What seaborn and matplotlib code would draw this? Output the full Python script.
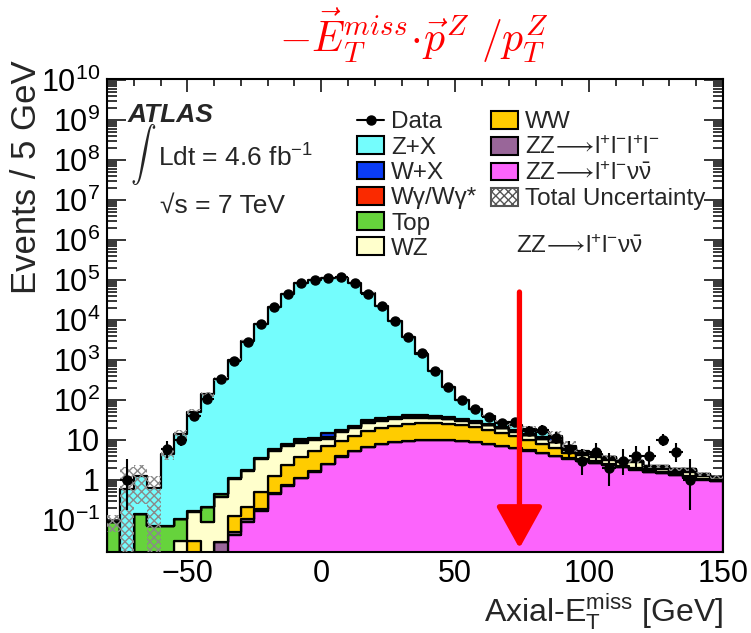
import math
import numpy as np
import pandas as pd
import matplotlib
matplotlib.use("Agg")
import matplotlib.pyplot as plt
import seaborn as sns
from matplotlib.lines import Line2D
from matplotlib.patches import Patch
from matplotlib.ticker import MultipleLocator, LogLocator, FuncFormatter, NullFormatter

# ---------------- data ----------------
bin_edges = np.arange(-80, 155, 5)          # 5 GeV bins, -80 .. 150
bin_centers = bin_edges[:-1] + 2.5

processes = ["Z+X", "W+X", "Wγ/Wγ*", "Top", "WZ", "WW", "ZZ4l", "ZZllvv"]

zx = [0, 0.6, 1.14, 0.56, 4.4, 13.9, 48.8, 140, 330, 1000, 2900, 8000, 21000, 45000,
      83000, 100000, 110000, 115000, 85000, 46000, 22000, 9450, 3650, 1408, 500, 172,
      66, 28, 14.4, 6.4, 6.3, 4.6, 4.3, 1.2, 0.75, 0.45, 0.2, 0.15, 0.02, 0.02, 0.02,
      0.02, 0.02, 0.02, 0.01, 0]
wx = [0] * 14 + [1.3, 0.2, 2.5, 0.6, 1.5, 3.5, 4, 3.5, 5, 4.5, 3.5, 3, 2.5, 2.0, 1.5,
                 1.2, 1.0, 0.8, 0.8, 2.5, 0.5, 0.4, 0.2, 0.2, 0.05, 0.05, 0.1, 0.1,
                 0.1, 0.1, 0.03, 0.01]
wgamma = [0] * 14 + [0.1, 0.1, 0.6, 0.2, 0.2, 0.3, 0.3, 0.3, 0.3, 0.3, 0.3, 0.3, 0.2,
                     0.2, 0.2, 0.1, 0.1, 0.1, 0.1, 0.1, 0.05, 0.05, 0.05, 0.05, 0.03,
                     0.03, 0.03, 0.03, 0.03, 0.03, 0.02, 0]
top = [0.09, 0, 0.14, 0.07, 0.07, 0.076, 0.015, 0.12, 0.08, 0.06, 0.1, 0.25, 0.6, 0.8,
       0.8, 0.9, 1.0, 1.0, 1.2, 1.5, 1.5, 1.5, 1.5, 1.5, 1.4, 1.3, 1.2, 1.0, 0.9, 0.8,
       0.6, 0.5, 0.4, 0.3, 0.3, 0.3, 0.25, 0.2, 0.1, 0.1, 0.15, 0.15, 0.15, 0.15, 0.06,
       0.02]
wz = [0, 0, 0, 0, 0, 0.03, 0.125, 0.087, 0.34, 0.93, 1.5, 2.86, 4.1, 4.8, 4.5, 4.6, 3.4,
      6.0, 7.2, 10, 10, 11, 10, 10, 9, 8, 7, 6, 5, 4.5, 3.5, 3.0, 2.4, 2.5, 0.8, 0.8,
      0.9, 0.7, 0.6, 0.85, 0.2, 0.35, 0.2, 0.38, 0.2, 0.2]
ww = [0, 0, 0, 0, 0, 0, 0.03, 0, 0, 0.08, 0.1, 0.3, 0.8, 1.6, 2.7, 3.7, 4.6, 5.7, 7.5,
      10.4, 12.1, 13.1, 15.4, 16.1, 16.0, 15.2, 13.6, 12.1, 9.9, 7.9, 6.2, 4.5, 3.3,
      2.1, 1.4, 0.36, 0.27, 0.17, 0.12, 0.12, 0.08, 0.08, 0.08, 0.05, 0.04, 0.03]
zz4l = [0] * 8 + [0.028, 0.008, 0.02, 0.02, 0.03, 0.04, 0.05, 0.05, 0.06, 0.06, 0.07,
                  0.07, 0.08, 0.08, 0.08, 0.08, 0.08, 0.08, 0.08, 0.07, 0.07, 0.06, 0.06,
                  0.05, 0.05, 0.05, 0.04, 0.04, 0.03, 0.03, 0.03, 0.03, 0.02, 0.02, 0.02,
                  0.02, 0.02, 0.02]
zzllvv = [0] * 9 + [0.041, 0.087, 0.17, 0.45, 0.72, 1.1, 1.6, 2.5, 3.8, 5.2, 6.5, 7.8,
                    8.8, 9.5, 9.8, 9.9, 9.7, 9.3, 8.8, 8.0, 7.0, 6.2, 5.4, 4.7, 4.0, 3.4,
                    3.0, 2.6, 2.3, 2.05, 1.8, 1.6, 1.45, 1.3, 1.15, 1.02, 0.92]

rel_unc = [0.45, 2.5, 0.8, 1.0, 0.3, 0.25, 0.2, 0.15, 0.12, 0.1, 0.08] + [0.06] * 18 + \
          [0.15, 0.15, 0.15, 0.15, 0.3, 0.3] + [0.1] * 11

data = [0, 1, 0, 0, 6, 10, 40, 105, 330, 950, 2800, 7900, 20900, 44700, 83000, 100000,
        110000, 117000, 83000, 44700, 22000, 9300, 3700, 1470, 540, 210, 100, 59, 38, 27,
        28, 17, 18, 11, 6, 3, 5, 2, 3, 4, 4, 10, 5, 1, 0, 0]

colors = {"Z+X": "#74fdfd", "W+X": "#0a3cf5", "Wγ/Wγ*": "#fa2a00", "Top": "#66d33c",
          "WZ": "#ffffcc", "WW": "#ffcc00", "ZZ4l": "#996699", "ZZllvv": "#fc64fc"}
ARROW = r"$\!\longrightarrow\!$"
labels = {"Z+X": "Z+X", "W+X": "W+X", "Wγ/Wγ*": "Wγ/Wγ*", "Top": "Top", "WZ": "WZ",
          "WW": "WW", "ZZ4l": "ZZ" + ARROW + r"l$^{+}$l$^{-}$l$^{+}$l$^{-}$",
          "ZZllvv": "ZZ" + ARROW + r"l$^{+}$l$^{-}\nu\bar{\nu}$"}

series = {"Z+X": zx, "W+X": wx, "Wγ/Wγ*": wgamma, "Top": top, "WZ": wz, "WW": ww,
          "ZZ4l": zz4l, "ZZllvv": zzllvv}

df = pd.concat([pd.DataFrame({"x": bin_centers, "w": series[p], "process": p})
                for p in processes], ignore_index=True)

# ---------------- style ----------------
sns.set_theme(style="ticks")
plt.rcParams["font.family"] = ["Liberation Sans", "DejaVu Sans"]
plt.rcParams["mathtext.fontset"] = "custom"
plt.rcParams["mathtext.rm"] = "Liberation Sans"
plt.rcParams["mathtext.it"] = "Liberation Sans"
plt.rcParams["mathtext.bf"] = "Liberation Sans:bold"
plt.rcParams["mathtext.sf"] = "Liberation Sans"
plt.rcParams["mathtext.fallback"] = "stixsans"
plt.rcParams["hatch.linewidth"] = 1.0
plt.rcParams["axes.linewidth"] = 1.5

fig = plt.figure(figsize=(7.51, 6.33), dpi=100)
ax = fig.add_axes([0.1425, 0.128, 0.8202, 0.7472])

sns.histplot(data=df, x="x", weights="w", hue="process", hue_order=processes,
             bins=[float(b) for b in bin_edges], multiple="stack", element="step",
             fill=True, palette=colors, alpha=1, edgecolor="black", linewidth=1.6,
             legend=False, ax=ax)
ax.set_yscale("log")

# total uncertainty band
total = np.sum([np.array(series[p]) for p in processes], axis=0)
unc = total * np.array(rel_unc)
lo = np.clip(total - unc, 1e-4, None)
hi = total + unc
ax.fill_between(bin_edges, np.append(lo, lo[-1]), np.append(hi, hi[-1]), step="post",
                facecolor="none", edgecolor="#8a8a8a", hatch="xxxx", linewidth=0,
                zorder=3)


# data with Poisson (Garwood) intervals
def pois_cdf(n, mu):
    s, term = 0.0, math.exp(-mu)
    for k in range(n + 1):
        if k > 0:
            term *= mu / k
        s += term
    return s


def garwood(n, cl=0.158655):
    if n > 60:
        return math.sqrt(n), math.sqrt(n)
    a, b = n, n + 10 * math.sqrt(n + 1) + 10
    for _ in range(80):
        m = 0.5 * (a + b)
        if pois_cdf(n, m) > cl:
            a = m
        else:
            b = m
    up = 0.5 * (a + b)
    if n == 0:
        return 0.0, up
    a, b = 0.0, n
    for _ in range(80):
        m = 0.5 * (a + b)
        if 1 - pois_cdf(n - 1, m) < cl:
            a = m
        else:
            b = m
    low = 0.5 * (a + b)
    return n - low, up - n


data_arr = np.array(data, dtype=float)
mask = data_arr > 0
errs = np.array([garwood(int(n)) for n in data_arr[mask]])
ax.errorbar(bin_centers[mask], data_arr[mask], yerr=[errs[:, 0], errs[:, 1]],
            xerr=2.5, fmt="o", color="black", ms=6.5, elinewidth=1.5, capsize=0,
            zorder=5)

# red arrow for the cut
ax.annotate("", xy=(74, 0.0195), xytext=(74, 5e4),
            arrowprops=dict(arrowstyle="-|>,head_length=1.3,head_width=0.72",
                            color="#ff0000", lw=3.8, mutation_scale=20,
                            shrinkA=0, shrinkB=0), zorder=6)

# axes
ax.set_xlim(-80, 150)
ax.set_ylim(0.0158, 1.06e10)
ax.set_xlabel("")
ax.set_ylabel("")
ax.xaxis.set_major_locator(MultipleLocator(50))
ax.xaxis.set_minor_locator(MultipleLocator(10))
ax.yaxis.set_major_locator(LogLocator(base=10, numticks=20))
ax.yaxis.set_minor_locator(LogLocator(base=10, subs=np.arange(2, 10), numticks=30))
ax.yaxis.set_minor_formatter(NullFormatter())


def yfmt(v, pos):
    e = int(round(math.log10(v)))
    if e == 0:
        return "1"
    if e == 1:
        return "10"
    return r"10$^{%d}$" % e


ax.yaxis.set_major_formatter(FuncFormatter(yfmt))
ax.tick_params(axis="both", which="both", direction="in", top=True, right=True,
               width=1.1, colors="black", labelsize=22)
ax.tick_params(axis="x", which="major", length=9.5, pad=5)
ax.tick_params(axis="x", which="minor", length=5)
ax.tick_params(axis="y", which="major", length=14, pad=5)
ax.tick_params(axis="y", which="minor", length=7)
for s in ax.spines.values():
    s.set_visible(True)
    s.set_color("black")

fig.text(0.035, 0.905, "Events / 5 GeV", rotation=90, ha="center", va="top",
         fontsize=25)
fig.text(723 / 751, 1 - 621.5 / 633, r"Axial-E$_{\mathrm{T}}^{\mathrm{miss}}$ [GeV]",
         ha="right", va="baseline", fontsize=23)

# title
fig.text(0.551, 0.943, r"$-\vec{E}_{T}^{miss}\!\cdot\!\vec{p}^{Z}\ /p_{T}^{Z}$",
         color="red", fontsize=30, math_fontfamily="cm", ha="center", va="center")

# annotations
fig.text(128 / 751, 1 - 115 / 633, "ATLAS", fontsize=19, fontweight="bold",
         fontstyle="italic", ha="left", va="center")
fig.text(143 / 751, 1 - 154 / 633, r"$\int$", fontsize=18.5, math_fontfamily="cm",
         ha="center", va="center")
fig.text(158 / 751, 1 - 158 / 633, r"Ldt = 4.6 fb$^{-1}$", fontsize=19, ha="left",
         va="center")
fig.text(160 / 751, 1 - 206 / 633, "√s = 7 TeV", fontsize=19,
         ha="left", va="center")
fig.text(579 / 751, 1 - 247 / 633, "ZZ" + ARROW + r"l$^{+}$l$^{-}\nu\bar{\nu}$",
         fontsize=17.5, ha="center", va="center")


# legends
def box(p):
    return Patch(facecolor=colors[p], edgecolor="black", linewidth=1.5)


h1 = [Line2D([0], [0], color="black", marker="o", ms=6.5, lw=1.5)] + \
     [box(p) for p in ["Z+X", "W+X", "Wγ/Wγ*", "Top", "WZ"]]
l1 = ["Data"] + [labels[p] for p in ["Z+X", "W+X", "Wγ/Wγ*", "Top", "WZ"]]
h2 = [box(p) for p in ["WW", "ZZ4l", "ZZllvv"]] + \
     [Patch(facecolor="white", edgecolor="#555555", hatch="xxxx", linewidth=1.5)]
l2 = [labels[p] for p in ["WW", "ZZ4l", "ZZllvv"]] + ["Total Uncertainty"]

kw = dict(frameon=False, fontsize=17.5, handlelength=1.12, handleheight=0.75,
          handletextpad=0.28, labelspacing=0.12, borderpad=0, borderaxespad=0,
          loc="upper left", bbox_transform=fig.transFigure)
leg1 = ax.legend(h1, l1, bbox_to_anchor=(357 / 751, 1 - 111 / 633), **kw)
ax.add_artist(leg1)
ax.legend(h2, l2, bbox_to_anchor=(491 / 751, 1 - 111 / 633), **kw)

fig.savefig("out.png", dpi=100)
